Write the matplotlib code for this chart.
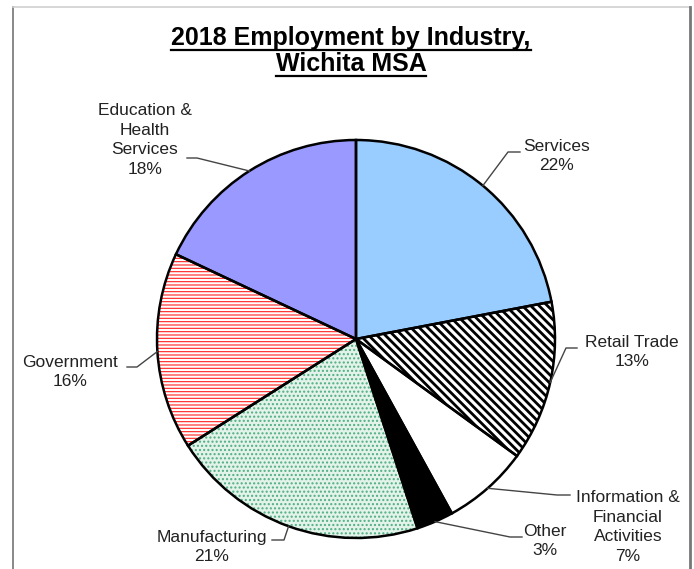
import matplotlib
matplotlib.use("Agg")
import matplotlib.pyplot as plt
from matplotlib.lines import Line2D
import numpy as np

# chart data
industries = ["Services", "Retail Trade", "Information &\nFinancial\nActivities",
              "Other", "Manufacturing", "Government", "Education &\nHealth\nServices"]
shares = [22, 13, 7, 3, 21, 16, 18]

# styling per slice: face colour, hatch, hatch colour, hatch width
faces = ["#99ccff", "white", "white", "black", "#e3f3ea", "white", "#9999ff"]
hatches = [None, "\\\\\\\\", None, None, "....", "-----", None]
hatch_cols = ["none", "black", "none", "none", "#4fae82", "#ff2020", "none"]
hatch_lws = [1.0, 2.0, 1.0, 1.0, 1.0, 0.8, 1.0]

W, H = 694, 569
CX, CY, R = 356, 339, 199


def to_data(px, py):
    return (px - CX) / R, (CY - py) / R


# label layout in pixels: (elbow, end of leader, text centre)
layout = [
    ((508, 152), (520, 152), (557, 156)),
    ((566, 348), (577, 348), (632, 352)),
    ((557, 495), (570, 495), (628, 527)),
    ((510, 537), (522, 537), (545, 541)),
    ((284, 540), (272, 540), (212, 547)),
    ((137, 367), (127, 367), (70, 372)),
    ((197, 158), (187, 158), (145, 140)),
]

plt.rcParams['font.family'] = ['Liberation Sans', 'DejaVu Sans']

fig = plt.figure(figsize=(W / 100, H / 100), dpi=100)
ax = fig.add_axes([(CX - R) / W, (H - CY - R) / H, 2 * R / W, 2 * R / H])

# fills and hatches first
wedges, _ = ax.pie(shares, startangle=90, counterclock=False, radius=1,
                   wedgeprops=dict(linewidth=0))
for w, fc, ht, hc, hl in zip(wedges, faces, hatches, hatch_cols, hatch_lws):
    w.set_facecolor(fc)
    w.set_linewidth(0)
    if ht:
        w.set_edgecolor(hc)
        w.set_hatch(ht)
        if hasattr(w, "set_hatch_linewidth"):
            w.set_hatch_linewidth(hl)
    else:
        w.set_edgecolor("none")

# black outlines on top
ax.pie(shares, startangle=90, counterclock=False, radius=1,
       wedgeprops=dict(facecolor="none", edgecolor="black", linewidth=1.8))

ax.set_xlim(-1, 1)
ax.set_ylim(-1, 1)
ax.set_aspect("equal")
ax.axis("off")

# leaders and labels
total = sum(shares)
cum = 0
for name, val, (elbow, end, tc) in zip(industries, shares, layout):
    mid = np.deg2rad(90 - (cum + val / 2) / total * 360)
    cum += val
    x0, y0 = np.cos(mid), np.sin(mid)
    ex, ey = to_data(*elbow)
    nx, ny = to_data(*end)
    ax.plot([x0, ex, nx], [y0, ey, ny], color="#444444", lw=1.0, clip_on=False)
    tx, ty = to_data(*tc)
    ax.text(tx, ty, f"{name}\n{val}%", ha="center", va="center", fontsize=12.5,
            color="#222222", linespacing=1.38, clip_on=False)

# title, two underlined lines
title_lines = ["2018 Employment by Industry,", "Wichita MSA"]
baselines = [45, 71]
texts = []
for line, b in zip(title_lines, baselines):
    t = fig.text(351 / W, 1 - b / H, line, ha="center", va="baseline",
                 fontsize=18, fontweight="bold", color="black")
    texts.append(t)

fig.canvas.draw()
rend = fig.canvas.get_renderer()
for t, b in zip(texts, baselines):
    bb = t.get_window_extent(rend)
    yl = (H - b - 5) / H
    fig.add_artist(Line2D([bb.x0 / W, bb.x1 / W], [yl, yl], color="black", lw=1.6))

# outer frame
fig.add_artist(Line2D([12.5 / W, 12.5 / W], [0, 1 - 7 / H], color="#888888", lw=1.4))
fig.add_artist(Line2D([12.5 / W, 690 / W], [1 - 7 / H, 1 - 7 / H], color="#d0d0d0", lw=1.2))
fig.add_artist(Line2D([690 / W, 690 / W], [0, 1 - 7 / H], color="#777777", lw=2.0))

fig.savefig("out.png", dpi=100)
